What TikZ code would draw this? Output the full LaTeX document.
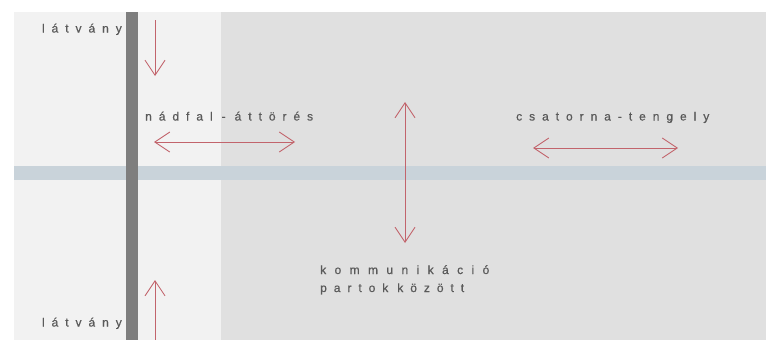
\documentclass[tikz,border=0pt]{standalone}
\usepackage{fontspec}
\setmainfont{Liberation Sans}
\usetikzlibrary{arrows.meta}
\definecolor{lightpanel}{HTML}{F2F2F2}
\definecolor{darkpanel}{HTML}{E0E0E0}
\definecolor{wallgray}{HTML}{7E7E7E}
\definecolor{bandblue}{HTML}{C9D3DA}
\definecolor{arrowred}{HTML}{C2646C}
\definecolor{txtgray}{HTML}{5A5A5A}
\newcommand{\lblfont}{\fontsize{12}{18}\selectfont\addfontfeature{LetterSpace=58,FakeBold=0.6}}
\newcommand{\lblfontwide}{\fontsize{12}{18}\selectfont\addfontfeature{LetterSpace=70,FakeBold=0.6}}
\newcommand{\wsp}{\kern9pt\relax}
\begin{document}
\begin{tikzpicture}[x=1pt,y=-1pt,
  lbl/.style={text=txtgray,inner sep=0pt,font=\lblfont},
  redarrow/.style={draw=arrowred,line width=0.9pt,arrows={-Straight Barb[length=15pt,width=20pt,line width=0.9pt]}},
  dredarrow/.style={draw=arrowred,line width=0.9pt,arrows={Straight Barb[length=15pt,width=20pt,line width=0.9pt]-Straight Barb[length=15pt,width=20pt,line width=0.9pt]}}]
\useasboundingbox (0,0) rectangle (766,340);
\fill[white] (0,0) rectangle (766,340);
% panels
\fill[lightpanel] (14,12) rectangle (221,340);
\fill[darkpanel] (221,12) rectangle (766,340);
% canal band
\fill[bandblue] (14,166) rectangle (766,180);
% reed wall
\fill[wallgray] (126,12) rectangle (138,340);
% labels
\node[lbl,anchor=base east] (vtop) at (122,32.5) {látvány};
\node[lbl,anchor=base east] (vbot) at (122,326.5) {látvány};
\node[lbl,anchor=base west] (nad) at (145,120.5) {nádfal\wsp-\wsp áttörés};
\node[lbl,anchor=base west] (csat) at (516,120.5) {csatorna-tengely};
\node[lbl,anchor=base west,font=\lblfontwide] (komm) at (320,274) {kommunikáció};
\node[lbl,anchor=base west] (part) at (320,292) {partok\wsp között};
% arrow endpoints
\coordinate (vt1) at (155,20);
\coordinate (vt2) at (155,76);
\coordinate (vb1) at (155,340);
\coordinate (vb2) at (155,280);
\coordinate (n1) at (154,142);
\coordinate (n2) at (295,142);
\coordinate (c1) at (533,148);
\coordinate (c2) at (678,148);
\coordinate (k1) at (405,102);
\coordinate (k2) at (405,243);
% arrows
\draw[redarrow] (vt1) -- (vt2);
\draw[redarrow] (vb1) -- (vb2);
\draw[dredarrow] (n1) -- (n2);
\draw[dredarrow] (c1) -- (c2);
\draw[dredarrow] (k1) -- (k2);
\end{tikzpicture}
\end{document}
